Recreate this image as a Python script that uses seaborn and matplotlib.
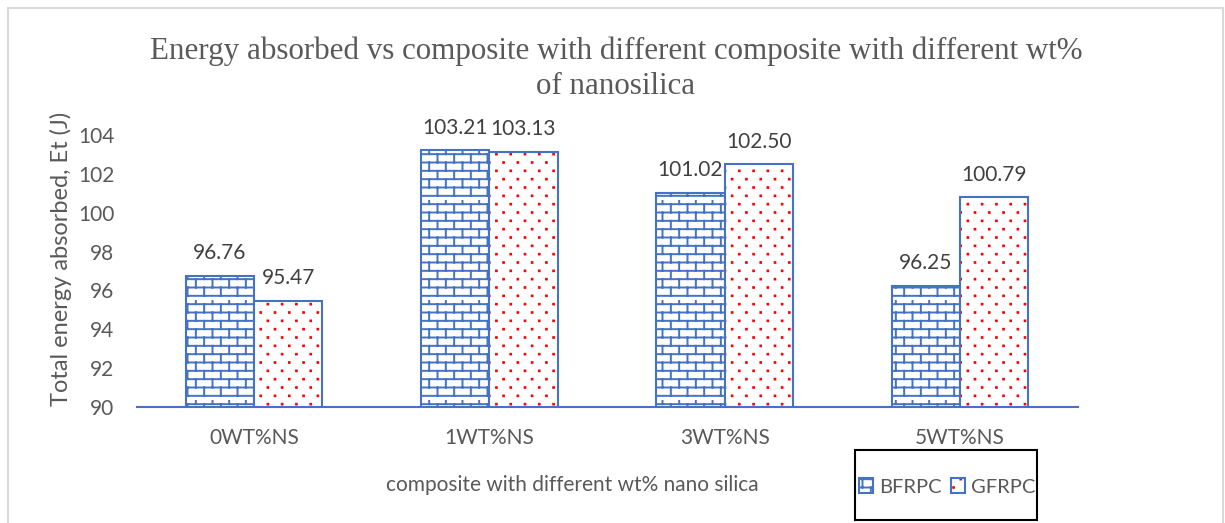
import numpy as np
import pandas as pd
import matplotlib
matplotlib.use("Agg")
import matplotlib.pyplot as plt
import matplotlib.hatch as mhatch
from matplotlib.path import Path
from matplotlib.patches import Rectangle, Patch
from matplotlib.colors import to_rgba
import seaborn as sns

# ---- data ----
categories = ["0WT%NS", "1WT%NS", "3WT%NS", "5WT%NS"]
series_names = ["BFRPC", "GFRPC"]
bfrpc = [96.76, 103.21, 101.02, 96.25]
gfrpc = [95.47, 103.13, 102.50, 100.79]
y_ticks = [90, 92, 94, 96, 98, 100, 102, 104]

BLUE = "#4472C4"
RED = "#FF0000"
GREY_TXT = "#595959"
DARK_TXT = "#404040"


# ---- custom hatch patterns: brick wall ('O') and staggered dots ('.') ----
class BrickHatch(mhatch.HatchPatternBase):
    rows, cols = 12, 6

    def __init__(self, hatch, density):
        n = hatch.count("O")
        self.num_vertices = (self.rows + self.rows * self.cols) * 2 if n else 0

    def set_vertices_and_codes(self, vertices, codes):
        v = []
        for k in range(self.rows):
            y0 = (k + 0.5) / self.rows
            y1 = (k + 1.5) / self.rows
            v += [(0.0, y0), (1.0, y0)]
            for j in range(self.cols):
                x = (j + 0.25 + 0.5 * (k % 2)) / self.cols
                v += [(x, y0), (x, y1)]
        vertices[:] = np.array(v)
        codes[0::2] = Path.MOVETO
        codes[1::2] = Path.LINETO


class DotHatch(mhatch.HatchPatternBase):
    rows, cols = 12, 7
    size = 0.0035

    def __init__(self, hatch, density):
        n = hatch.count(".")
        self.num_vertices = self.rows * self.cols * 5 if n else 0

    def set_vertices_and_codes(self, vertices, codes):
        v, c = [], []
        s = self.size
        for k in range(self.rows):
            y = (k + 0.5) / self.rows
            for j in range(self.cols):
                x = (j + 0.25 + 0.5 * (k % 2)) / self.cols
                v += [(x - s, y - s), (x + s, y - s), (x + s, y + s),
                      (x - s, y + s), (x - s, y - s)]
                c += [Path.MOVETO, Path.LINETO, Path.LINETO, Path.LINETO,
                      Path.CLOSEPOLY]
        vertices[:] = np.array(v)
        codes[:] = c


mhatch._hatch_types = [
    BrickHatch if t is mhatch.LargeCircles
    else DotHatch if t is mhatch.SmallFilledCircles
    else t
    for t in mhatch._hatch_types
]

# ---- style ----
sns.set_theme(style="white")
plt.rcParams["font.family"] = ["Lato", "DejaVu Sans"]
plt.rcParams["hatch.linewidth"] = 1.4

df = pd.DataFrame({
    "composite": categories * 2,
    "series": [series_names[0]] * len(categories) + [series_names[1]] * len(categories),
    "energy": bfrpc + gfrpc,
})

W, H = 1225, 523
fig = plt.figure(figsize=(W / 100, H / 100), dpi=100)
ax = fig.add_axes([136.5 / W, (H - 407) / H, 941 / W, 272 / H])

sns.barplot(data=df, x="composite", y="energy", hue="series",
            palette=["white", "white"], saturation=1, width=0.58, gap=0,
            edgecolor=BLUE, linewidth=1.5, legend=False, ax=ax)

hatches = ["O", "."]
hatch_cols = [BLUE, RED]
for cont, h, hc in zip(ax.containers, hatches, hatch_cols):
    for p in cont:
        p.set_hatch(h)
        if hasattr(p, "set_hatchcolor"):
            p.set_hatchcolor(hc)
        else:
            p._hatch_color = to_rgba(hc)

for cont, vals in zip(ax.containers, [bfrpc, gfrpc]):
    ax.bar_label(cont, labels=[f"{v:.2f}" for v in vals], padding=9,
                 fontsize=15, color=DARK_TXT)

ax.set_ylim(90, 104)
ax.set_xlim(-0.5, 3.5)
ax.set_yticks(y_ticks)
ax.tick_params(axis="both", length=0, labelsize=15, labelcolor=GREY_TXT)
ax.tick_params(axis="y", pad=16)
ax.tick_params(axis="x", pad=15)
for side in ["left", "right", "top"]:
    ax.spines[side].set_visible(False)
ax.spines["bottom"].set_color(BLUE)
ax.spines["bottom"].set_linewidth(1.5)
ax.set_xlabel("")
ax.set_ylabel("Total energy absorbed, Et (J)", fontsize=17, color=GREY_TXT)
ax.yaxis.set_label_coords(-0.0685, 0.545)

# title
fig.text(616 / W, 1 - 51 / H,
         "Energy absorbed vs composite with different composite with different wt%",
         ha="center", va="center", fontsize=22.3, color=GREY_TXT,
         family="Liberation Serif")
fig.text(616 / W, 1 - 86 / H, "of nanosilica", ha="center", va="center",
         fontsize=22.3, color=GREY_TXT, family="Liberation Serif")

# axis title
fig.text(572 / W, 1 - 485 / H, "composite with different wt% nano silica",
         ha="center", va="center", fontsize=15, color=GREY_TXT)

# legend with its frame
fig.patches.append(Rectangle((855 / W, 3 / H), (1037 - 855) / W, (520 - 450) / H,
                             transform=fig.transFigure, fill=False,
                             edgecolor="black", linewidth=1.5))
handles = []
for h, hc in zip(hatches, hatch_cols):
    hp = Patch(facecolor="white", edgecolor=BLUE, linewidth=1.5, hatch=h)
    if hasattr(hp, "set_hatchcolor"):
        hp.set_hatchcolor(hc)
    else:
        hp._hatch_color = to_rgba(hc)
    handles.append(hp)
fig.legend(handles, series_names, loc="center",
           bbox_to_anchor=(947 / W, 1 - 487 / H), frameon=False, ncol=2,
           fontsize=14.5, labelcolor=GREY_TXT, handlelength=0.7,
           handleheight=0.7, columnspacing=0.45, handletextpad=0.3)

# outer chart border
fig.patches.append(Rectangle((8 / W, -0.1), (1223 - 8) / W, 1.1 - 8 / H,
                             transform=fig.transFigure, fill=False,
                             edgecolor="#d9d9d9", linewidth=1.5))

fig.savefig("out.png", dpi=100)
